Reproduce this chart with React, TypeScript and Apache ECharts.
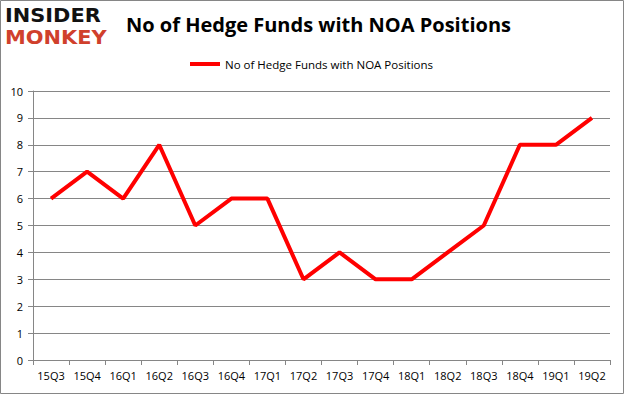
import React, { useEffect, useRef } from "react";
import * as echarts from "echarts";

const categories = ["15Q3", "15Q4", "16Q1", "16Q2", "16Q3", "16Q4", "17Q1", "17Q2", "17Q3", "17Q4", "18Q1", "18Q2", "18Q3", "18Q4", "19Q1", "19Q2"];
const fundCounts = [6, 7, 6, 8, 5, 6, 6, 3, 4, 3, 3, 4, 5, 8, 8, 9];
const seriesName = "No of Hedge Funds with NOA Positions";
const titleText = "No of Hedge Funds with NOA Positions";

export default function App() {
  const ref = useRef<HTMLDivElement>(null);
  useEffect(() => {
    if (!ref.current) return;
    const chart = echarts.init(ref.current, null, { renderer: "svg" });
    const font = "'Open Sans', 'DejaVu Sans', sans-serif";
    const logoFont = "'DejaVu Sans', sans-serif";
    chart.setOption({
      animation: false,
      backgroundColor: "#ffffff",
      title: {
        text: titleText,
        left: 121,
        top: 9,
        textStyle: { fontFamily: font, fontSize: 20, fontWeight: "bold", color: "#000" },
      },
      legend: {
        data: [seriesName],
        top: 53,
        left: 185,
        itemWidth: 30,
        itemHeight: 4,
        itemGap: 5,
        icon: "rect",
        textStyle: { fontFamily: font, fontSize: 11.5, color: "#000" },
      },
      grid: { left: 33, right: 15, top: 91, bottom: 35, containLabel: false },
      xAxis: {
        type: "category",
        data: categories,
        boundaryGap: true,
        axisLine: { lineStyle: { color: "#868686" } },
        axisTick: { show: true, length: 5, lineStyle: { color: "#868686" } },
        axisLabel: { fontFamily: font, fontSize: 11, color: "#000", margin: 10 },
      },
      yAxis: {
        type: "value",
        min: 0,
        max: 10,
        interval: 1,
        axisLine: { show: true, lineStyle: { color: "#868686" } },
        axisTick: { show: true, length: 5, lineStyle: { color: "#868686" } },
        axisLabel: { fontFamily: font, fontSize: 11, color: "#000", margin: 10 },
        splitLine: { lineStyle: { color: "#868686", width: 1 } },
      },
      series: [
        {
          name: seriesName,
          type: "line",
          data: fundCounts,
          showSymbol: false,
          symbol: "none",
          lineStyle: { color: "#ff0000", width: 4 },
          itemStyle: { color: "#ff0000" },
        },
      ],
      graphic: [
        {
          type: "rect",
          shape: { x: 0.5, y: 0.5, width: 623, height: 393 },
          style: { fill: "none", stroke: "#868686", lineWidth: 1 },
          silent: true,
        },
        {
          type: "text",
          left: 5,
          top: 6,
          style: {
            text: "INSIDER",
            fontFamily: logoFont,
            fontWeight: "bold",
            fontSize: 19,
            fill: "#111111",
            width: 100,
          },
          scaleX: 1.1,
        },
        {
          type: "text",
          left: 5,
          top: 28,
          style: {
            text: "MONKEY",
            fontFamily: logoFont,
            fontWeight: "bold",
            fontSize: 19,
            fill: "#d0402c",
          },
          scaleX: 1.1,
        },
      ],
    });
    return () => chart.dispose();
  }, []);
  return (
    <div
      ref={ref}
      style={{ position: "fixed", left: 0, top: 0, width: 625, height: 395 }}
    />
  );
}
